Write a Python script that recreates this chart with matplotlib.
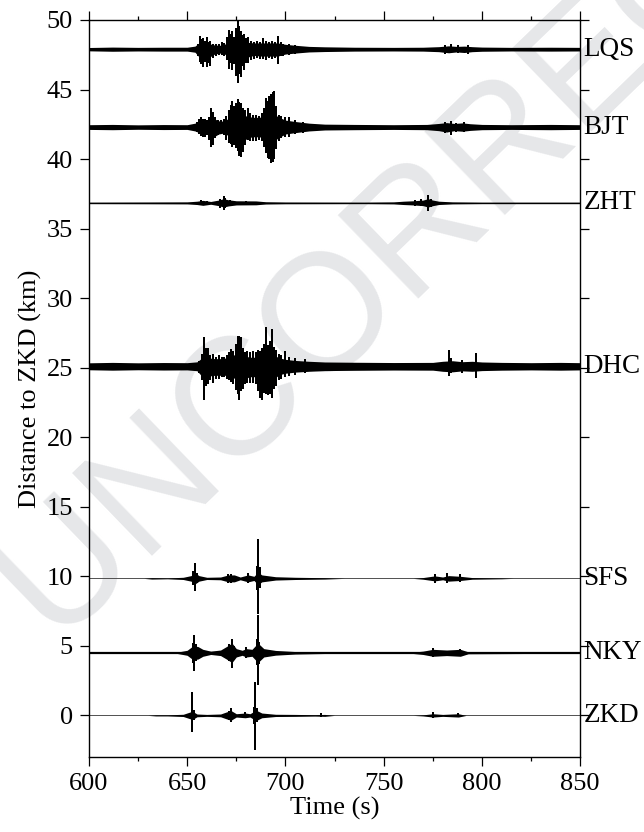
import matplotlib
matplotlib.use("Agg")
import matplotlib.pyplot as plt
import matplotlib.transforms as mtransforms

plt.rcParams["font.family"] = "Liberation Serif"

# stations and their distance to ZKD (km)
stations = ["LQS", "BJT", "ZHT", "DHC", "SFS", "NKY", "ZKD"]
distances = [47.9, 42.3, 36.85, 25.1, 9.85, 4.5, 0.0]

# --- trace envelopes (time s, half-amplitude km) ---
lqs_t = [600, 612, 625, 638, 650, 654, 656, 658, 661, 664, 667, 670, 672, 675, 677, 680, 684, 688,
         692, 696, 700, 705, 712, 720, 735, 755, 770, 778, 783, 787, 791, 795, 800, 815, 835, 850]
lqs_up = [0.12, 0.15, 0.13, 0.14, 0.14, 0.22, 0.45, 0.5, 0.4, 0.3, 0.28, 0.4, 0.7, 0.9, 0.7, 0.5, 0.45, 0.45,
          0.45, 0.45, 0.35, 0.28, 0.2, 0.17, 0.14, 0.13, 0.14, 0.18, 0.24, 0.2, 0.22, 0.18, 0.15, 0.13, 0.14, 0.13]
lqs_dn = [0.12, 0.15, 0.13, 0.14, 0.14, 0.22, 0.55, 0.7, 0.6, 0.35, 0.28, 0.4, 0.75, 1.0, 0.8, 0.6, 0.45, 0.5,
          0.5, 0.5, 0.35, 0.28, 0.2, 0.17, 0.14, 0.13, 0.14, 0.18, 0.26, 0.2, 0.24, 0.18, 0.15, 0.13, 0.14, 0.13]

bjt_t = [600, 612, 625, 638, 650, 654, 657, 660, 663, 666, 669, 672, 675, 678, 681, 684, 687, 690,
         693, 696, 700, 705, 712, 720, 735, 755, 772, 778, 782, 786, 790, 794, 800, 815, 835, 850]
bjt_up = [0.17, 0.19, 0.16, 0.18, 0.17, 0.28, 0.45, 0.4, 0.65, 0.45, 0.42, 0.75, 1.0, 0.9, 0.75, 0.7, 0.7, 1.0,
          1.2, 0.75, 0.5, 0.4, 0.28, 0.21, 0.19, 0.17, 0.19, 0.26, 0.32, 0.26, 0.3, 0.24, 0.19, 0.17, 0.19, 0.17]
bjt_dn = [0.17, 0.19, 0.16, 0.18, 0.17, 0.28, 0.45, 0.5, 0.75, 0.5, 0.42, 0.75, 0.85, 1.1, 0.75, 0.7, 0.7, 1.1,
          1.3, 0.8, 0.5, 0.4, 0.28, 0.21, 0.19, 0.17, 0.19, 0.26, 0.36, 0.26, 0.3, 0.24, 0.19, 0.17, 0.19, 0.17]

zht_t = [600, 630, 650, 655, 658, 662, 666, 668.5, 671, 675, 685, 690, 700, 740, 755, 760, 765, 770,
         772.6, 775, 778, 785, 800, 850]
zht_up = [0.05, 0.06, 0.07, 0.12, 0.18, 0.1, 0.2, 0.3, 0.22, 0.15, 0.14, 0.08, 0.06, 0.05, 0.07, 0.12, 0.15, 0.2,
          0.3, 0.2, 0.12, 0.07, 0.05, 0.05]
zht_dn = zht_up

dhc_t = [600, 612, 625, 638, 650, 655, 658, 661, 664, 667, 670, 673, 676, 679, 682, 685, 688, 691,
         694, 697, 700, 705, 712, 720, 735, 755, 775, 780, 785, 790, 795, 800, 810, 825, 840, 850]
dhc_up = [0.25, 0.28, 0.25, 0.27, 0.26, 0.32, 0.65, 0.6, 0.55, 0.55, 0.6, 0.75, 1.0, 0.75, 0.65, 0.65, 0.8, 0.9,
          0.8, 0.6, 0.5, 0.42, 0.36, 0.31, 0.29, 0.27, 0.28, 0.36, 0.4, 0.33, 0.36, 0.31, 0.28, 0.26, 0.28, 0.26]
dhc_dn = [0.25, 0.28, 0.25, 0.27, 0.26, 0.32, 0.8, 0.7, 0.65, 0.65, 0.65, 0.75, 1.1, 0.9, 0.75, 0.75, 1.0, 1.05,
          0.9, 0.6, 0.5, 0.42, 0.36, 0.31, 0.29, 0.27, 0.28, 0.36, 0.4, 0.33, 0.36, 0.31, 0.28, 0.26, 0.28, 0.26]

sfs_t = [600, 628, 632, 640, 648, 652, 654, 656, 660, 667, 671, 674, 677, 681, 684, 686, 688, 695,
         705, 720, 730, 765, 770, 776, 780, 783, 789, 795, 810, 816, 850]
sfs_up = [0, 0, 0.05, 0.03, 0.08, 0.2, 0.4, 0.2, 0.08, 0.1, 0.25, 0.25, 0.1, 0.25, 0.15, 0.45, 0.25, 0.12,
          0.08, 0.05, 0, 0, 0.06, 0.18, 0.1, 0.2, 0.15, 0.06, 0.03, 0, 0]
sfs_dn = sfs_up

nky_t = [600, 645, 650, 653, 655.5, 658, 662, 667, 670, 672.8, 675, 678, 680, 683, 686, 689, 695,
         705, 720, 765, 770, 775, 782, 789, 793, 850]
nky_up = [0.03, 0.05, 0.18, 0.5, 0.45, 0.25, 0.12, 0.2, 0.45, 0.7, 0.3, 0.18, 0.3, 0.25, 0.7, 0.3, 0.17,
          0.09, 0.05, 0.05, 0.12, 0.25, 0.2, 0.25, 0.07, 0.03]
nky_dn = nky_up

zkd_t = [600, 630, 634, 640, 648, 652.7, 655, 660, 667, 670, 672.3, 675, 679.5, 682, 685, 688, 695,
         705, 715, 720, 725, 765, 770, 775, 780, 788, 792, 850]
zkd_up = [0, 0, 0.04, 0.04, 0.08, 0.3, 0.1, 0.07, 0.1, 0.25, 0.35, 0.12, 0.17, 0.12, 0.38, 0.17, 0.08,
          0.07, 0.05, 0.07, 0, 0, 0.04, 0.12, 0.07, 0.12, 0, 0]
zkd_dn = zkd_up

# --- individual swings (time s, peak up / peak down, km) ---
lqs_spk_t = [655.5, 656.5, 657.3, 658.2, 659, 660, 661, 661.8, 663, 664.5, 666, 667.5, 669, 670.5,
             671.4, 672.3, 673, 674, 675, 675.7, 676.6, 677.5, 678.3, 679, 680, 681, 682.5, 684,
             685.5, 687, 688.5, 690, 691.5, 693, 694.5, 696, 697.5, 699, 702, 705,
             781, 784, 788, 793]
lqs_spk_up = [0.4, 0.95, 0.7, 0.8, 0.6, 0.85, 0.5, 0.6, 0.4, 0.35, 0.4, 0.5, 0.45, 0.9,
              1.4, 1.1, 1.3, 0.9, 1.5, 2.05, 1.7, 1.3, 1.0, 1.1, 0.8, 0.9, 0.6, 0.55,
              0.6, 0.5, 0.8, 0.6, 0.55, 0.6, 0.5, 0.95, 0.5, 0.4, 0.35, 0.3,
              0.3, 0.38, 0.3, 0.33]
lqs_spk_dn = [0.5, 0.9, 1.1, 1.25, 0.9, 1.3, 1.0, 1.2, 0.6, 0.5, 0.45, 0.4, 0.5, 0.8,
              1.4, 1.0, 1.5, 1.1, 1.9, 2.4, 1.8, 2.0, 1.2, 1.5, 1.0, 1.0, 0.8, 0.7,
              0.6, 0.7, 0.7, 0.8, 0.6, 0.7, 0.6, 1.1, 0.5, 0.5, 0.4, 0.35,
              0.35, 0.3, 0.3, 0.35]

bjt_spk_t = [655, 656, 657, 658, 659, 660, 661, 662, 663, 664, 665.5, 667, 668.5, 670,
             671.4, 672.3, 673, 674, 675, 675.7, 676.6, 677.5, 678.5, 679.5, 681, 682, 683.5, 685,
             686.5, 688, 689.2, 690.1, 691, 691.8, 692.7, 693.5, 694.4, 695.3, 696.5, 698, 700, 702,
             705, 709, 781, 784, 787, 791]
bjt_spk_up = [0.35, 0.6, 0.75, 0.55, 0.6, 0.5, 0.7, 1.4, 1.1, 0.7, 0.5, 0.5, 0.55, 0.8,
              1.25, 1.6, 1.9, 1.5, 1.7, 2.0, 1.8, 1.7, 1.4, 1.2, 1.4, 1.0, 0.9, 0.9,
              0.8, 1.0, 1.4, 2.1, 1.9, 2.2, 2.4, 2.5, 2.6, 1.5, 0.9, 0.8, 0.7, 0.7,
              0.5, 0.4, 0.35, 0.45, 0.3, 0.35]
bjt_spk_dn = [0.35, 0.5, 0.65, 0.7, 0.7, 0.55, 0.9, 1.4, 1.3, 0.8, 0.6, 0.5, 0.6, 0.9,
              1.15, 1.2, 1.45, 1.3, 1.5, 1.7, 2.1, 2.15, 1.8, 1.3, 0.9, 1.0, 1.0, 1.0,
              0.9, 1.0, 1.4, 1.9, 2.2, 2.3, 2.6, 2.5, 2.3, 1.6, 1.0, 0.8, 0.75, 0.7,
              0.5, 0.4, 0.4, 0.55, 0.35, 0.35]

zht_spk_t = [657, 660, 666.5, 668.5, 669.5, 672, 680, 766, 769, 772.6, 774]
zht_spk_up = [0.2, 0.15, 0.3, 0.48, 0.35, 0.2, 0.15, 0.22, 0.25, 0.55, 0.3]
zht_spk_dn = [0.15, 0.15, 0.35, 0.53, 0.4, 0.2, 0.15, 0.2, 0.25, 0.57, 0.3]

dhc_spk_t = [656, 657.5, 658.7, 659.6, 660.5, 661.5, 663, 664.5, 666, 667.5, 669, 670.5, 671.5,
             672.3, 673.5, 674.8, 675.8, 676.6, 677.6, 678.5, 679.5, 680.5, 682, 683.5, 685, 686.2,
             687, 688, 689, 690, 691.3, 692.2, 693, 694, 695, 696.5, 698, 700, 702, 705, 710,
             783, 784, 790, 797]
dhc_spk_up = [0.4, 0.9, 2.1, 1.3, 1.3, 0.8, 0.9, 0.7, 0.8, 0.7, 0.7, 0.8, 1.0,
              1.25, 1.1, 1.6, 2.15, 2.2, 2.1, 1.3, 1.0, 1.1, 1.0, 1.1, 1.0, 1.2,
              1.1, 1.3, 1.6, 2.8, 1.5, 1.8, 2.7, 1.4, 1.2, 0.9, 0.8, 1.1, 0.7, 0.6, 0.5,
              1.2, 0.6, 0.45, 0.95]
dhc_spk_dn = [0.5, 1.0, 2.4, 1.4, 1.3, 1.0, 1.2, 0.9, 0.9, 0.8, 0.8, 0.9, 1.0,
              1.1, 1.3, 1.7, 2.0, 2.4, 1.8, 1.6, 1.3, 1.2, 1.2, 1.2, 1.3, 1.8,
              2.3, 2.4, 1.9, 2.0, 2.1, 2.0, 2.3, 1.6, 1.4, 1.0, 0.9, 0.8, 0.7, 0.6, 0.5,
              0.7, 0.5, 0.45, 0.85]

sfs_spk_t = [653, 654, 655, 671, 672.5, 681, 685.5, 686.2, 687, 776, 782, 789]
sfs_spk_up = [0.5, 1.1, 0.4, 0.35, 0.3, 0.4, 0.9, 2.8, 0.8, 0.35, 0.4, 0.3]
sfs_spk_dn = [0.45, 0.9, 0.35, 0.3, 0.3, 0.35, 0.8, 2.55, 0.7, 0.3, 0.35, 0.25]

nky_spk_t = [652.8, 653.6, 654.5, 671.5, 672.8, 674, 680, 685.3, 686, 686.8, 775, 789]
nky_spk_up = [0.7, 1.3, 0.6, 0.6, 1.0, 0.5, 0.4, 1.0, 2.75, 0.8, 0.35, 0.3]
nky_spk_dn = [0.7, 1.3, 0.6, 0.6, 1.1, 0.5, 0.35, 0.9, 2.3, 0.8, 0.3, 0.25]

zkd_spk_t = [652.7, 653.5, 671.5, 672.3, 679.5, 684, 684.7, 685.5, 718, 775, 788]
zkd_spk_up = [1.7, 0.4, 0.35, 0.5, 0.25, 0.6, 2.4, 0.5, 0.15, 0.25, 0.15]
zkd_spk_dn = [1.2, 0.35, 0.3, 0.45, 0.2, 0.6, 2.5, 0.5, 0.15, 0.2, 0.12]

traces = {
    "LQS": (lqs_t, lqs_up, lqs_dn, lqs_spk_t, lqs_spk_up, lqs_spk_dn),
    "BJT": (bjt_t, bjt_up, bjt_dn, bjt_spk_t, bjt_spk_up, bjt_spk_dn),
    "ZHT": (zht_t, zht_up, zht_dn, zht_spk_t, zht_spk_up, zht_spk_dn),
    "DHC": (dhc_t, dhc_up, dhc_dn, dhc_spk_t, dhc_spk_up, dhc_spk_dn),
    "SFS": (sfs_t, sfs_up, sfs_dn, sfs_spk_t, sfs_spk_up, sfs_spk_dn),
    "NKY": (nky_t, nky_up, nky_dn, nky_spk_t, nky_spk_up, nky_spk_dn),
    "ZKD": (zkd_t, zkd_up, zkd_dn, zkd_spk_t, zkd_spk_up, zkd_spk_dn),
}
baseline_style = {
    "LQS": ("black", 1.0), "BJT": ("black", 1.0), "ZHT": ("black", 0.9), "DHC": ("black", 1.0),
    "SFS": ("#505050", 0.7), "NKY": ("black", 1.6), "ZKD": ("#505050", 0.7),
}

fig = plt.figure(figsize=(6.44, 8.32), dpi=100)
ax = fig.add_axes([0.138, 0.090, 0.763, 0.886])
ax.patch.set_alpha(0)

# watermark behind everything
fig.text(0.76, 0.81, "UNCORRECTED", fontsize=120, family="Liberation Sans",
         color="#e6e7e9", rotation=44, rotation_mode="anchor", ha="center", va="center", zorder=-5)

for name, base in zip(stations, distances):
    t, up, dn, st, sup, sdn = traces[name]
    color, lw = baseline_style[name]
    ax.axhline(base, color=color, lw=lw, zorder=2)
    ax.fill_between(t, [base - d for d in dn], [base + u for u in up], color="black", lw=0, zorder=3)
    ax.vlines(st, [base - d for d in sdn], [base + u for u in sup], color="black", lw=1.3,
              antialiased=False, zorder=3)

lab_tr = mtransforms.blended_transform_factory(ax.transAxes, ax.transData)
for name, base in zip(stations, distances):
    ax.text(1.006, base, name, transform=lab_tr, ha="left", va="center", fontsize=19.5)

ax.set_xlim(600, 850)
ax.set_ylim(-3, 50)
ax.set_xticks([600, 650, 700, 750, 800, 850])
ax.set_xticks([625, 675, 725, 775, 825], minor=True)
ax.set_yticks(range(0, 51, 5))
ax.tick_params(axis="both", which="major", direction="out", length=6.5, width=0.9, labelsize=19, pad=5)
ax.tick_params(axis="x", which="minor", direction="out", length=3, width=0.9)
ax.tick_params(top=True, right=True, which="both")
ax.tick_params(axis="x", which="major", top=True, labeltop=False)
ax.tick_params(axis="y", right=True, labelright=False)
for sp in ax.spines.values():
    sp.set_linewidth(1.0)

ax.set_xlabel("Time (s)", fontsize=19, labelpad=1)
ax.set_ylabel("Distance to ZKD (km)", fontsize=19, labelpad=3)

fig.savefig("out.png", dpi=100)
